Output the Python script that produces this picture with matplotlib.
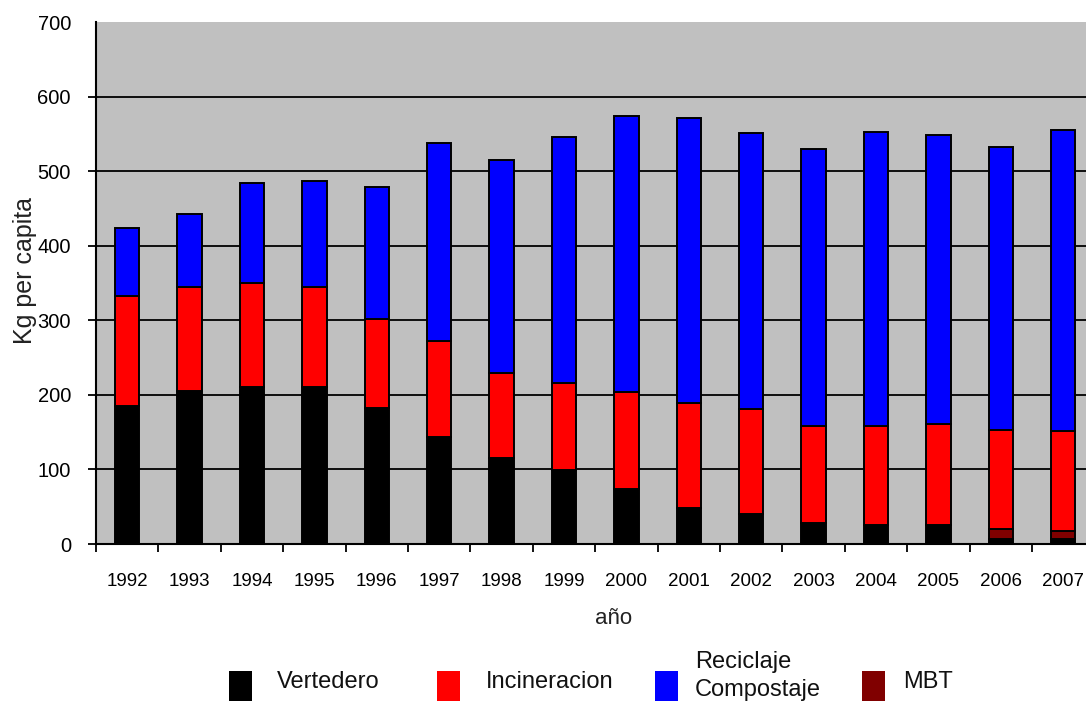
import matplotlib
matplotlib.use("Agg")
import matplotlib.pyplot as plt
from matplotlib.patches import Rectangle
import numpy as np

# Municipal waste per capita by treatment route (kg per person and year)
years = ["1992", "1993", "1994", "1995", "1996", "1997", "1998", "1999",
         "2000", "2001", "2002", "2003", "2004", "2005", "2006", "2007"]
vertedero = [185, 205, 211, 211, 182, 143, 115, 99, 74, 48, 40, 28, 25, 25, 7, 7]
mbt = [0, 0, 0, 0, 0, 0, 0, 0, 0, 0, 0, 0, 0, 0, 13, 11]
incineracion = [147, 140, 139, 134, 120, 129, 114, 117, 130, 141, 141, 130, 133, 136, 133, 134]
reciclaje = [92, 98, 134, 142, 177, 266, 286, 330, 370, 382, 370, 372, 394, 387, 379, 403]

series_labels = ["Vertedero", "Incineracion", "Reciclaje\nCompostaje", "MBT"]
colors = {"Vertedero": "#000000", "Incineracion": "#FF0000",
          "Reciclaje": "#0000FF", "MBT": "#800000"}
y_ticks = [0, 100, 200, 300, 400, 500, 600, 700]

FONT = "Liberation Sans"
W, H = 1086, 708
fig = plt.figure(figsize=(W / 100, H / 100), dpi=100)
ax = fig.add_axes([96 / W, 1 - 544 / H, 16 * 62.4 / W, (544 - 22) / H])
ax.set_facecolor("#C0C0C0")

x = np.arange(len(years))
bw = 0.39
edge = dict(edgecolor="black", linewidth=1.4, zorder=3)

v = np.array(vertedero, dtype=float)
m = np.array(mbt, dtype=float)
inc = np.array(incineracion, dtype=float)
rec = np.array(reciclaje, dtype=float)

ax.bar(x, v, bw, color=colors["Vertedero"], **edge)
ax.bar(x, m, bw, bottom=v, color=colors["MBT"],
       edgecolor=["black" if val > 0 else "none" for val in m],
       linewidth=1.4, zorder=3)
ax.bar(x, inc, bw, bottom=v + m, color=colors["Incineracion"], **edge)
ax.bar(x, rec, bw, bottom=v + m + inc, color=colors["Reciclaje"], **edge)

ax.set_xlim(-0.5, len(years) - 0.5)
ax.set_ylim(0, 700)

ax.set_yticks(y_ticks)
ax.set_yticklabels([str(t) for t in y_ticks], family=FONT, fontsize=14.5)
ax.yaxis.grid(True, color="black", linewidth=1.3)
ax.set_axisbelow(True)
ax.tick_params(axis="y", direction="out", length=6, width=1.3, pad=12)
# the top of the frame carries no grid line or tick
ax.yaxis.get_gridlines()[-1].set_visible(False)
ax.yaxis.get_major_ticks()[-1].tick1line.set_visible(False)

# year labels at bar centres, tick marks on category boundaries
ax.set_xticks(x)
ax.set_xticklabels(years, family=FONT, fontsize=13.5)
ax.tick_params(axis="x", which="major", length=0, pad=21)
ax.set_xticks(np.arange(-0.5, len(years), 1.0), minor=True)
ax.tick_params(axis="x", which="minor", direction="out", length=6, width=1.3)

for side in ("top", "right"):
    ax.spines[side].set_visible(False)
for side in ("left", "bottom"):
    ax.spines[side].set_linewidth(1.5)
    ax.spines[side].set_zorder(4)

fig.text(25 / W, 1 - 270 / H, "Kg per capita", rotation=90, ha="center", va="center",
         fontsize=18, family=FONT, color="#222222")
fig.text(614 / W, 1 - 619 / H, "año", ha="center", va="center",
         fontsize=16, family=FONT, color="#222222")

# legend row
legend_items = [
    (series_labels[0], colors["Vertedero"], 229, 277, 682),
    (series_labels[1], colors["Incineracion"], 437, 486, 682),
    (series_labels[2], colors["Reciclaje"], 655, 695, 676),
    (series_labels[3], colors["MBT"], 862, 903, 682),
]
for label, col, sx, tx, ty in legend_items:
    fig.add_artist(Rectangle((sx / W, 1 - 701 / H), 23 / W, 30 / H,
                             transform=fig.transFigure, facecolor=col,
                             edgecolor="none"))
    fig.text(tx / W, 1 - ty / H, label, ha="left", va="center",
             fontsize=17, family=FONT, color="#111111", linespacing=1.3)

fig.savefig("out.png", dpi=100)
